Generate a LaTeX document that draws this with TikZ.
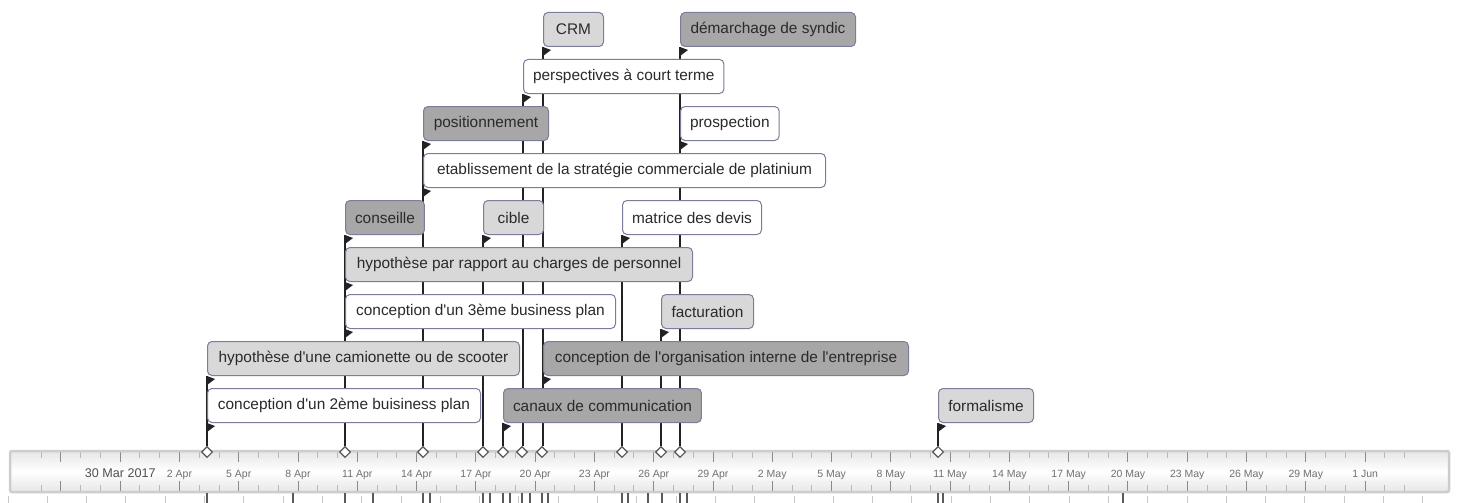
\documentclass[tikz,border=0pt]{standalone}
\usepackage{fontspec}
\setmainfont{Liberation Sans}[Ligatures=TeXOff]
\usetikzlibrary{shapes.geometric}
\pgfdeclarelayer{bg}
\pgfsetlayers{bg,main}
\definecolor{boxline}{HTML}{7A7E99}
\definecolor{evtext}{HTML}{2A2A2A}
\definecolor{evwhite}{HTML}{FFFFFF}
\definecolor{evlight}{HTML}{D8D8D8}
\definecolor{evdark}{HTML}{A7A7A7}
\definecolor{bandedge}{HTML}{CDCDCD}
\definecolor{bandshade}{HTML}{E6E6E6}
\definecolor{tickminor}{HTML}{B8B8B8}
\definecolor{tickmajor}{HTML}{8A8A8A}
\definecolor{datetext}{HTML}{707070}
\definecolor{yeartext}{HTML}{505050}
\definecolor{overtick}{HTML}{C8C8C8}
\definecolor{overline}{HTML}{5A5A5A}
\definecolor{stem}{HTML}{222222}
\definecolor{marker}{HTML}{555555}

% one event: name, left x, row, width, fill, label, marker node
\newcommand\tlevent[7]{%
  \node[evbox, fill=#5, minimum width=#4pt] (#1) at (#2, {12+47*#3}) {#6};
  \fill[stem] (#1.south west) -- ++(8,3) -- ++(-8,6) -- cycle;
  \begin{pgfonlayer}{bg}
    \draw[evline] (#1.south west) -- (#1.south west |- #7.north);
  \end{pgfonlayer}%
}

\begin{document}
\begin{tikzpicture}[x=1pt, y=-1pt,
  evbox/.style={draw=boxline, line width=1pt, rounded corners=4.5pt,
    minimum height=34pt, inner xsep=9.5pt, inner ysep=0pt,
    anchor=north west, text=evtext,
    font=\fontsize{15.4}{18}\selectfont},
  evline/.style={draw=stem, line width=1.6pt},
  diam/.style={diamond, draw=marker, fill=white, line width=1.1pt,
    minimum width=11pt, minimum height=11pt, inner sep=0pt},
  minortick/.style={draw=tickminor, line width=1pt},
  majortick/.style={draw=tickmajor, line width=1pt},
  datelabel/.style={anchor=base, text=datetext, inner sep=0pt,
    font=\fontsize{10.5}{12}\selectfont},
  yearlabel/.style={anchor=base, text=yeartext, inner sep=0pt,
    font=\fontsize{12.6}{14}\selectfont},
  overtickstyle/.style={draw=overtick, line width=1pt},
  overmark/.style={draw=overline, line width=1.3pt}]

\useasboundingbox (0,0) rectangle (1480,503);

% ---- the date band ----
\shade[top color=bandshade, bottom color=bandshade, middle color=white]
  (10,451) rectangle (1449,492);
\foreach \d in {-4,...,65} {
  \pgfmathsetmacro\tx{120.2+19.76*\d}
  \pgfmathtruncatemacro\m{mod(\d+30,3)}
  \ifnum\m=0
    \draw[majortick] (\tx,452) -- (\tx,462);
    \draw[majortick] (\tx,481) -- (\tx,491);
  \else
    \draw[minortick] (\tx,452) -- (\tx,458);
    \draw[minortick] (\tx,485) -- (\tx,491);
  \fi
}
\draw[draw=bandedge, line width=2.5pt, rounded corners=2pt]
  (10,451) rectangle (1449,492);

\node[yearlabel] (y0) at (120.2,477) {30 Mar 2017};
\foreach \d/\t in {3/2 Apr, 6/5 Apr, 9/8 Apr, 12/11 Apr, 15/14 Apr,
  18/17 Apr, 21/20 Apr, 24/23 Apr, 27/26 Apr, 30/29 Apr, 33/2 May,
  36/5 May, 39/8 May, 42/11 May, 45/14 May, 48/17 May, 51/20 May,
  54/23 May, 57/26 May, 60/29 May, 63/1 Jun} {
  \node[datelabel] at ({120.2+19.76*\d},477) {\t};
}

% ---- overview strip below the band ----
\foreach \k in {0,...,36} {
  \draw[overtickstyle] ({8+39.3*\k},496) -- ({8+39.3*\k},503);
}
\foreach \x in {207,293,345,373,423,430,483,490,503,510,522,530,542,548,
  622,628,648,662,680,687,938,943,1123} {
  \draw[overmark] (\x,493) -- (\x,503);
}

% ---- event markers on the band ----
\node[diam] (dA) at (207,452) {};
\node[diam] (dB) at (345,452) {};
\node[diam] (dC) at (423,452) {};
\node[diam] (dD) at (483,452) {};
\node[diam] (dE) at (503,452) {};
\node[diam] (dF) at (522,452) {};
\node[diam] (dG) at (542,452) {};
\node[diam] (dH) at (622,452) {};
\node[diam] (dI) at (661,452) {};
\node[diam] (dJ) at (680,452) {};
\node[diam] (dK) at (938,452) {};

% ---- events ----
\tlevent{crm}{543}{0}{60}{evlight}{CRM}{dG}
\tlevent{dem}{680}{0}{175}{evdark}{démarchage de syndic}{dJ}
\tlevent{persp}{523}{1}{200}{evwhite}{perspectives à court terme}{dF}
\tlevent{posit}{423}{2}{125}{evdark}{positionnement}{dC}
\tlevent{prosp}{680}{2}{98}{evwhite}{prospection}{dJ}
\tlevent{etab}{423}{3}{402}{evwhite}{etablissement de la stratégie commerciale de platinium}{dC}
\tlevent{cons}{345}{4}{77}{evdark}{conseille}{dB}
\tlevent{cible}{483}{4}{60}{evlight}{cible}{dD}
\tlevent{matr}{622}{4}{139}{evwhite}{matrice des devis}{dH}
\tlevent{hypch}{345}{5}{347}{evlight}{hypothèse par rapport au charges de personnel}{dB}
\tlevent{bpthree}{345}{6}{270}{evwhite}{conception d'un 3ème business plan}{dB}
\tlevent{fact}{661}{6}{92}{evlight}{facturation}{dI}
\tlevent{cam}{207}{7}{312}{evlight}{hypothèse d'une camionette ou de scooter}{dA}
\tlevent{org}{543}{7}{365}{evdark}{conception de l'organisation interne de l'entreprise}{dG}
\tlevent{bptwo}{207}{8}{273}{evwhite}{conception d'un 2ème buisiness plan}{dA}
\tlevent{canaux}{503}{8}{195}{evdark}{canaux de communication}{dE}
\tlevent{form}{938}{8}{95}{evlight}{formalisme}{dK}

\end{tikzpicture}
\end{document}
